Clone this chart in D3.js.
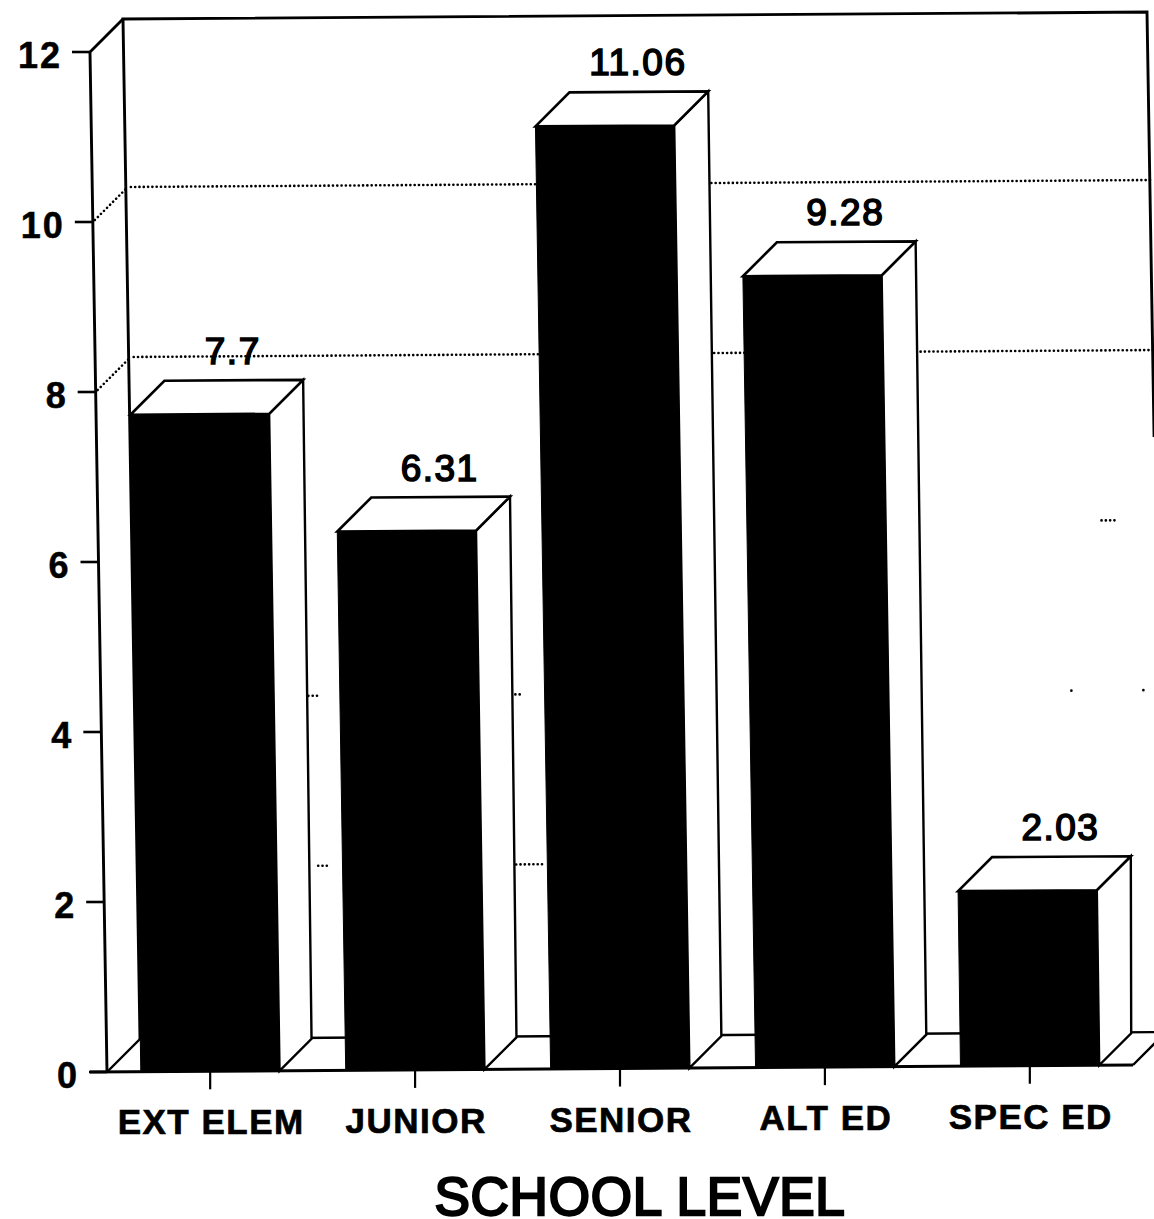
<!DOCTYPE html>
<html>
<head>
<meta charset="utf-8">
<script src="https://cdn.jsdelivr.net/npm/d3@7"></script>
<style>
html,body{margin:0;padding:0;background:#fff}
svg{display:block}
text{font-family:"Liberation Sans",Arial,sans-serif;fill:#000;stroke:#000}
</style>
</head>
<body>
<div id="chart"></div>
<script>
const categories = ["EXT ELEM","JUNIOR","SENIOR","ALT ED","SPEC ED"];
const values = [7.7,6.31,11.06,9.28,2.03];
const valueLabels = ["7.7","6.31","11.06","9.28","2.03"];
const yTicks = [0,2,4,6,8,10,12];
const fullGrid = [8,10];
const axisTitle = "SCHOOL LEVEL";
// scan survivors of the otherwise faded 2, 4 and 6 gridlines: [value, from, to] along the category axis
const fadedGrid = [[2,179,190],[2,377,405],[4,172,183],[4,379,387],[6,968,985],[4,935,936],[4,1007,1008]];

const W=1154,H=1219;
const svg=d3.select("#chart").append("svg").attr("width",W).attr("height",H).attr("viewBox",`0 0 ${W} ${H}`);
svg.append("rect").attr("width",W).attr("height",H).attr("fill","#fff");

const uLen=1026, wallLen=1024, depth=33, x0=107, skew=0.01667, tilt=0.0068;
const u=d3.scaleBand().domain(categories).range([0,uLen]).paddingInner(0.323).paddingOuter(0.165);
const y=d3.scaleLinear().domain([0,12]).range([1072,52]);
const P=(a,v,d=0)=>[x0+a-(y(0)-y(v))*skew+d, y(v)-tilt*a-d];
const line=d3.line();
const ink=(pts,sw=2.6)=>svg.append("path").attr("d",line(pts)).attr("fill","none").attr("stroke","#000").attr("stroke-width",sw).attr("stroke-linejoin","miter");

// back wall
ink([P(0,0,depth),P(0,12,depth),P(wallLen,12,depth),P(wallLen,7,depth)],2.9);
// left wall
ink([P(0,0),P(0,12),P(0,12,depth)],2.9);
ink([P(0,0),P(0,0,depth)],2.4);
// gridlines
const dotted=(pts)=>svg.append("path").attr("d",line(pts)).attr("fill","none").attr("stroke","#000")
  .attr("stroke-width",2.6).attr("stroke-linecap","round").attr("stroke-dasharray","0.1 4.2");
fullGrid.forEach(v=>{
  dotted([P(0,v,2),P(0,v,depth)]);
  dotted([P(3,v,depth+2),P(wallLen-1,v,depth+2)]);
});
fadedGrid.forEach(([v,a,b])=>dotted([P(a,v,depth+2),P(b,v,depth+2)]));
// floor
ink([P(0,0,depth),P(1014,0,depth)],2.4);
ink([P(uLen,0),P(uLen,0,depth)],2.4);

// bars
const lift=2.5, liftX=0.5, barDepth=34;
categories.forEach((c,i)=>{
  const a=u(c), b=a+u.bandwidth(), v=values[i];
  const ftl=[P(a,v)[0]+liftX,P(a,v)[1]-lift], ftr=[P(b,v)[0]+liftX,P(b,v)[1]-lift], fbl=P(a,0), fbr=P(b,0);
  const btl=[ftl[0]+barDepth,ftl[1]-barDepth], btr=[ftr[0]+barDepth,ftr[1]-barDepth];
  const bbr=P(b,0,depth-1);
  svg.append("path").attr("d",line([ftr,btr,bbr,fbr])+"Z").attr("fill","#fff").attr("stroke","#000").attr("stroke-width",2.4).attr("stroke-linejoin","miter");
  svg.append("path").attr("d",line([ftl,btl,btr,ftr])+"Z").attr("fill","#fff").attr("stroke","#000").attr("stroke-width",2.6).attr("stroke-linejoin","miter");
  svg.append("path").attr("d",line([ftl,ftr,fbr,fbl])+"Z").attr("fill","#000").attr("stroke","#000").attr("stroke-width",1);
  svg.append("text").attr("x",(btl[0]+btr[0])/2-1).attr("y",btl[1]-17).attr("text-anchor","middle")
    .attr("font-size",37).attr("stroke-width",1.6).attr("letter-spacing",1.5).text(valueLabels[i]);
});

// baseline
ink([[P(0,0)[0]-17,P(0,0)[1]],P(uLen,0)],3);

// y ticks
yTicks.forEach(t=>{
  const p=P(0,t);
  ink([[p[0]-18,p[1]],p],2.6);
  svg.append("text").attr("x",p[0]-28).attr("y",p[1]+15.5).attr("text-anchor","end")
    .attr("font-size",36).attr("font-weight","bold").attr("stroke-width",.5).attr("letter-spacing",2).text(t);
});

// x ticks and labels
categories.forEach(c=>{
  const p=P(u(c)+u.bandwidth()/2,0);
  ink([p,[p[0],p[1]+18]],2.2);
  svg.append("text").attr("x",p[0]+1).attr("y",p[1]+63).attr("text-anchor","middle")
    .attr("font-size",35).attr("font-weight","bold").attr("stroke-width",.7).attr("letter-spacing",1.5).text(c);
});

svg.append("text").attr("x",640).attr("y",1215).attr("text-anchor","middle")
  .attr("font-size",53).attr("stroke-width",2.4).attr("letter-spacing",.8).text(axisTitle);
</script>
</body>
</html>
